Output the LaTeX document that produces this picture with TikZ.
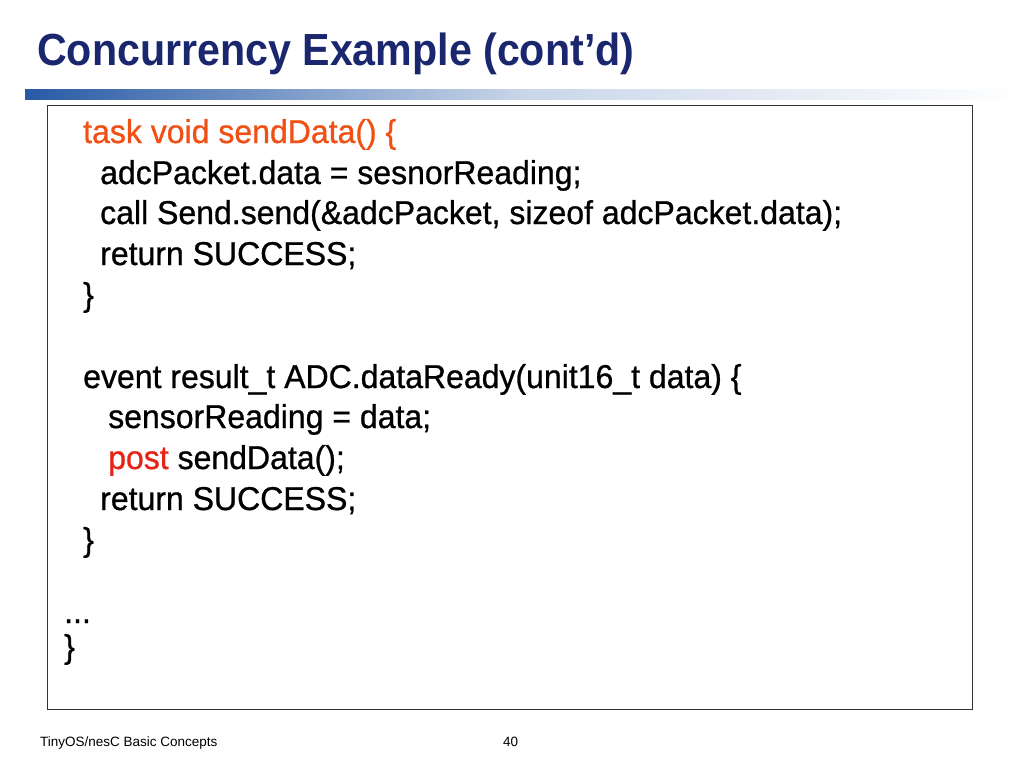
\documentclass[tikz,border=0pt]{standalone}
\usepackage{fontspec}
\setmainfont{Liberation Sans}
\newfontfamily\narrowcode[FakeStretch=0.97,FakeBold=0.8]{Liberation Sans}
\newfontfamily\titlefont[FakeStretch=0.915]{Liberation Sans Bold}
\definecolor{titleblue}{RGB}{26,38,110}
\definecolor{barblue}{RGB}{40,90,165}
\definecolor{codeorange}{RGB}{240,80,20}
\definecolor{postred}{RGB}{230,35,20}
\begin{document}
\begin{tikzpicture}[x=1pt,y=-1pt,
    code/.style={anchor=base west, inner sep=0pt, font=\narrowcode\fontsize{33}{36}\selectfont},
    foot/.style={anchor=base west, inner sep=0pt, font=\fontsize{13.5}{15}\selectfont}
  ]
\useasboundingbox (0,0) rectangle (1024,768);

% Title and bar
\node[anchor=base west, inner sep=0pt, text=titleblue, font=\titlefont\fontsize{45}{48}\selectfont] (title) at (37,66) {Concurrency Example (cont’d)};
\shade[left color=barblue, right color=white, middle color=barblue!25] (25,89) rectangle (1024,99);

% Code box
\draw[line width=0.8pt, black!80] (47,105) rectangle (972,709);

\node[code, text=codeorange] (l1) at (83,143) {task void sendData() \{};
\node[code] (l2) at (100,184) {adcPacket.data = sesnorReading;};
\node[code] (l3) at (100,224) {call Send.send(\&adcPacket, sizeof adcPacket.data);};
\node[code] (l4) at (100,265) {return SUCCESS;};
\node[code] (l5) at (83,306) {\}};
\node[code] (l6) at (83,388) {event result\_t ADC.dataReady(unit16\_t data) \{};
\node[code] (l7) at (108,428) {sensorReading = data;};
\node[code] (l8) at (108,469) {\textcolor{postred}{post} sendData();};
\node[code] (l9) at (100,510) {return SUCCESS;};
\node[code] (l10) at (83,551) {\}};
\node[code] (l11) at (64,623) {...};
\node[code] (l12) at (64,658) {\}};

% Footer
\node[foot] (ftext) at (40,746) {TinyOS/nesC Basic Concepts};
\node[foot] (fnum) at (503,746) {40};
\end{tikzpicture}
\end{document}
